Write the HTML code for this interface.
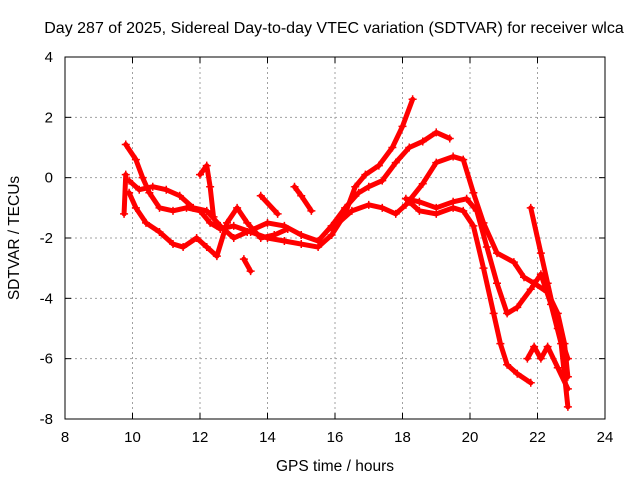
<!DOCTYPE html>
<html><head><meta charset="utf-8"><style>
body{margin:0;background:#fff}
svg{display:block;font-family:"Liberation Sans",sans-serif}
</style></head><body>
<svg id="c" width="640" height="480">
<rect x="0" y="0" width="640" height="480" fill="#fff"/>
<text x="334" y="33" font-size="16" text-anchor="middle">Day 287 of 2025, Sidereal Day-to-day VTEC variation (SDTVAR) for receiver wlca</text>
<text x="335" y="471" font-size="15.5" text-anchor="middle">GPS time / hours</text>
<text transform="translate(19,238) rotate(-90)" font-size="15.5" text-anchor="middle">SDTVAR / TECUs</text>
<g id="grid"></g><g id="marks"></g>
<rect x="65" y="57" width="540" height="362" fill="none" stroke="#000"/>
</svg>
<script>
const xTicks=[8,10,12,14,16,18,20,22,24];
const yTicks=[4,2,0,-2,-4,-6,-8];
const sA_x=[9.8,10.1,10.3,10.5,10.8,11.2,11.6,12.0,12.3,12.6,13.0,13.5,14,14.5,15,15.5,15.9,16.3,16.6,16.9,17.3,17.7,18.0,18.3];
const sA_y=[1.1,0.6,0,-0.5,-1.0,-1.1,-1.0,-1.1,-1.5,-1.7,-1.6,-1.8,-2.0,-2.1,-2.2,-2.3,-1.9,-1.2,-0.3,0.1,0.4,1.0,1.7,2.6];
const sB_x=[9.9,10.2,10.6,11.0,11.4,11.8,12.2,12.6,13,13.4,14,14.5,15.0,15.5,15.9,16.3,16.7,17.0,17.4,17.8,18.2,18.6,19.0,19.4];
const sB_y=[-0.1,-0.4,-0.3,-0.4,-0.6,-1.0,-1.1,-1.6,-2.0,-1.8,-1.5,-1.6,-1.9,-2.1,-1.6,-1.0,-0.5,-0.3,-0.1,0.5,1.0,1.2,1.5,1.3];
const sC_x=[15.9,16.5,17.0,17.4,17.8,18.1,18.6,19.0,19.5,19.8,20.1,20.4,20.8,21.3,21.6,21.9,22.3,22.6,22.8,22.9];
const sC_y=[-1.7,-1.1,-0.9,-1.0,-1.2,-0.9,-0.2,0.5,0.7,0.6,-0.5,-1.5,-2.5,-2.8,-3.3,-3.5,-3.8,-4.5,-5.5,-6.6];
const sD_x=[18.1,18.5,19,19.5,19.9,20.2,20.5,20.8,21.1,21.4,21.8,22.1,22.4,22.7,22.9];
const sD_y=[-0.7,-0.8,-1.0,-0.8,-0.7,-1.1,-2.3,-3.5,-4.5,-4.3,-3.7,-3.2,-4.2,-5.5,-7.6];
const sE_x=[18.2,18.5,19,19.5,19.8,20.1,20.4,20.7,20.9,21.1,21.4,21.8];
const sE_y=[-0.8,-1.1,-1.2,-1.0,-1.1,-1.6,-3.0,-4.5,-5.5,-6.2,-6.5,-6.8];
const sF_x=[21.8,22.1,22.3,22.6,22.9];
const sF_y=[-1.0,-2.5,-3.5,-5.0,-6.0];
const sG_x=[21.7,21.9,22.1,22.3,22.6,22.9];
const sG_y=[-6.0,-5.6,-6.0,-5.6,-6.3,-7.0];
const sH_x=[9.9,10.1,10.4,10.8,11.2,11.5,11.9,12.2,12.5,12.8,13.1,13.4,13.8,14.2,14.6];
const sH_y=[-0.5,-1.0,-1.5,-1.8,-2.2,-2.3,-2.0,-2.3,-2.6,-1.5,-1.0,-1.5,-2.0,-1.9,-1.7];
const sI_x=[12.0,12.2,12.3,12.4];const sI_y=[0.1,0.4,-0.3,-1.3];
const sJ_x=[13.3,13.5];const sJ_y=[-2.7,-3.1];
const sK_x=[13.8,14.3];const sK_y=[-0.6,-1.2];
const sL_x=[14.8,15.0,15.3];const sL_y=[-0.3,-0.6,-1.1];
const sM_x=[9.8,9.75];const sM_y=[0.1,-1.2];
const series=[[sA_x,sA_y],[sB_x,sB_y],[sC_x,sC_y],[sD_x,sD_y],[sE_x,sE_y],[sF_x,sF_y],[sG_x,sG_y],[sH_x,sH_y],[sI_x,sI_y],[sJ_x,sJ_y],[sK_x,sK_y],[sL_x,sL_y],[sM_x,sM_y]];
const X=h=>65+(h-8)*540/16, Y=v=>57+(4-v)*362/12;
const NS="http://www.w3.org/2000/svg";
const grid=document.getElementById('grid'), marks=document.getElementById('marks');
function mk(t,a,p){const e=document.createElementNS(NS,t);for(const k in a)e.setAttribute(k,a[k]);p.appendChild(e);return e;}
xTicks.forEach(t=>{const x=X(t);
 if(t>8&&t<24){const l=mk('line',{x1:x,y1:57,x2:x,y2:419,stroke:'#a0a0a0','stroke-dasharray':'2,3'},grid);
 
 }
 mk('line',{x1:x,y1:419,x2:x,y2:413,stroke:'#000'},grid);mk('line',{x1:x,y1:57,x2:x,y2:63,stroke:'#000'},grid);
 const s=mk('text',{x:x,y:442,'font-size':15,'text-anchor':'middle'},grid);s.textContent=t;
 
 });
yTicks.forEach(t=>{const y=Y(t);
 if(t>-8&&t<4){const l=mk('line',{x1:65,y1:y,x2:605,y2:y,stroke:'#a0a0a0','stroke-dasharray':'2,3'},grid);
 
 }
 mk('line',{x1:65,y1:y,x2:71,y2:y,stroke:'#000'},grid);mk('line',{x1:605,y1:y,x2:599,y2:y,stroke:'#000'},grid);
 const s=mk('text',{x:53,y:y+5,'font-size':15,'text-anchor':'end'},grid);s.textContent=t;
 
 });
series.forEach(([xs,ys])=>{
 const pts=xs.map((h,i)=>X(h)+','+Y(ys[i])).join(' ');
 const pl=mk('polyline',{points:pts,fill:'none',stroke:'#f00','stroke-width':5,'stroke-linejoin':'round','stroke-linecap':'round'},marks);
 
 
 xs.forEach((h,i)=>{const x=X(h),y=Y(ys[i]);
  const p=mk('path',{d:`M${x-4},${y}H${x+4}M${x},${y-4}V${y+4}`,stroke:'#f00','stroke-width':1.5},marks);
  
  });
});
</script>
</body></html>
